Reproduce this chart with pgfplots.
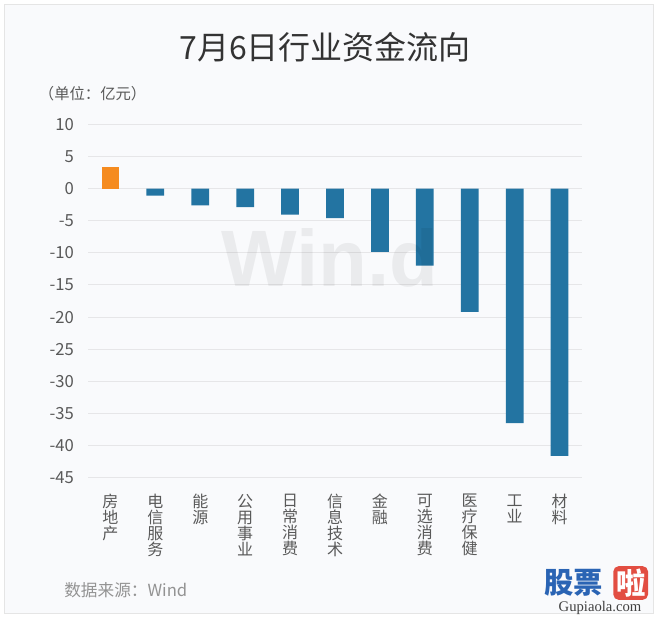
\documentclass[border=0pt]{standalone}
\usepackage{pgfplots}
\pgfplotsset{compat=1.18}
\usepackage{fontspec}
\setmainfont{Noto Sans CJK SC}
\newfontfamily\latinbold{Liberation Sans}
\newfontfamily\serifl{Liberation Serif}
\definecolor{barblue}{RGB}{35,116,162}
\definecolor{barorange}{RGB}{245,139,31}
\definecolor{txtgray}{RGB}{89,89,89}
\definecolor{gridgray}{RGB}{230,230,232}
\definecolor{cardbg}{RGB}{249,250,252}
\definecolor{logoblue}{RGB}{42,100,180}
\definecolor{logored}{RGB}{226,78,66}
\begin{document}
\begin{tikzpicture}
\path[use as bounding box] (0,0) rectangle (495pt,464.25pt);
\fill[white] (0,0) rectangle (495pt,464.25pt);
\draw[fill=cardbg, draw=gray!20] (3pt,4.5pt) rectangle (489.75pt,461.25pt);
\begin{axis}[
  at={(66pt,106pt)}, anchor=south west,
  scale only axis, width=370.5pt, height=265pt,
  xmin=-0.5, xmax=10.5, ymin=-45, ymax=10,
  ytick={-45,-40,...,10},
  xtick={0,...,10},
  xticklabels={房\\地\\产, 电\\信\\服\\务, 能\\源, 公\\用\\事\\业, 日\\常\\消\\费, 信\\息\\技\\术, 金\\融, 可\\选\\消\\费, 医\\疗\\保\\健, 工\\业, 材\\料},
  xticklabel style={align=center, font=\fontsize{12pt}{12pt}\selectfont, text=txtgray, anchor=north, yshift=-9pt},
  yticklabel style={font=\fontsize{12.5pt}{14pt}\selectfont, text=txtgray, xshift=-7pt},
  /pgf/number format/assume math mode=true,
  ymajorgrids, grid style={gridgray, line width=0.7pt},
  axis line style={draw=none},
  tick style={draw=none},
  major tick length=0pt,
  clip=false,
]
\addplot[ybar, bar width=13.3pt, bar shift=0pt, fill=barorange, draw=none] coordinates {(0,3.36)};
\addplot[ybar, bar width=13.3pt, bar shift=0pt, fill=barblue, draw=none] coordinates {
(1,-1.09) (2,-2.6) (3,-2.9) (4,-4.05) (5,-4.6) (6,-9.86) (7,-12.0) (8,-19.2) (9,-36.5) (10,-41.6)};
\end{axis}
\node[text=black, fill opacity=0, text opacity=0.06, font=\latinbold\bfseries\fontsize{60pt}{60pt}\selectfont] at (247.5pt,270.75pt) {Win.d};
\node[text=black!80, font=\fontsize{24pt}{26pt}\selectfont] at (243.75pt,429pt) {7月6日行业资金流向};
\node[anchor=west, text=txtgray, font=\fontsize{11.5pt}{13pt}\selectfont, inner sep=0pt] at (29pt,393.75pt) {（单位：亿元）};
\node[anchor=west, text=gray!85, font=\fontsize{12.5pt}{14pt}\selectfont, inner sep=0pt] at (48pt,21.75pt) {数据来源：Wind};
\node[anchor=west, text=logoblue, font=\bfseries\fontsize{22pt}{24pt}\selectfont, inner sep=0pt] at (408pt,27pt) {股票};
\node[fill=logored, rounded corners=4pt, text=white, font=\bfseries\fontsize{22pt}{24pt}\selectfont, inner sep=2pt] at (473pt,27pt) {啦};
\node[text=black!75, font=\serifl\fontsize{11pt}{12pt}\selectfont, inner sep=0pt] at (450pt,8pt) {Gupiaola.com};
\end{tikzpicture}
\end{document}
